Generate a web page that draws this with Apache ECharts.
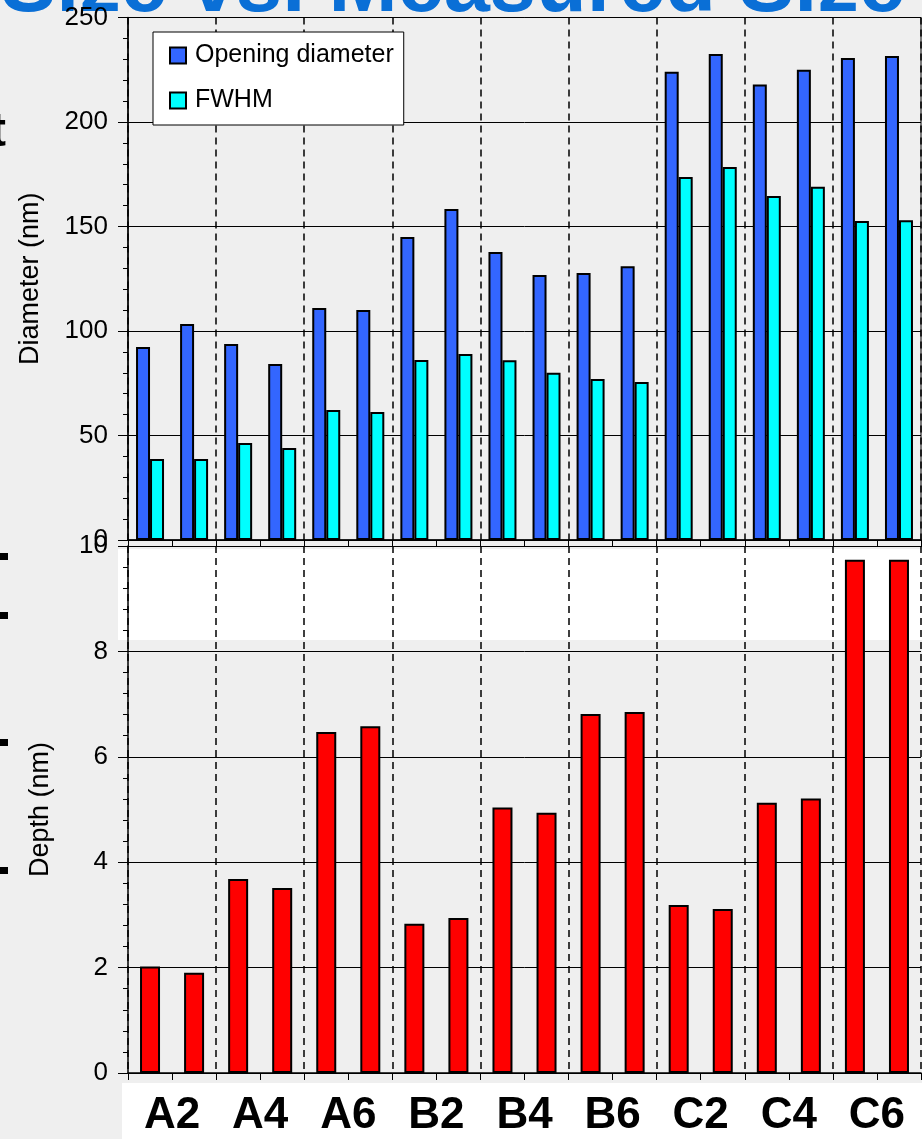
<!DOCTYPE html>
<html>
<head>
<meta charset="utf-8">
<script src="https://cdn.jsdelivr.net/npm/echarts@6/dist/echarts.min.js"></script>
<style>
  html, body { margin: 0; padding: 0; background: #efefef; }
  #chart { width: 922px; height: 1139px; }
</style>
</head>
<body>
<div id="chart"></div>
<script>
// ---- data ----
const groups = ['A2', 'A4', 'A6', 'B2', 'B4', 'B6', 'C2', 'C4', 'C6'];
const samples = ['A2a','A2b','A4a','A4b','A6a','A6b','B2a','B2b','B4a','B4b','B6a','B6b','C2a','C2b','C4a','C4b','C6a','C6b'];
const openingDiameter = [92.3, 103.3, 93.8, 84.2, 111, 110, 145, 158.4, 137.8, 126.8, 127.8, 131, 224, 232.5, 218, 225, 230.6, 231.6];
const fwhm = [38.8, 38.8, 46.4, 44, 62.2, 61.2, 86.1, 89, 86, 80, 77, 75.6, 173.7, 178.5, 164.6, 169, 152.6, 153];
const depth = [2.02, 1.9, 3.68, 3.51, 6.47, 6.58, 2.83, 2.94, 5.04, 4.94, 6.81, 6.85, 3.19, 3.11, 5.13, 5.21, 9.74, 9.74];
const diameterTicks = { min: 0, max: 250, interval: 50 };
const depthTicks = { min: 0, max: 10, interval: 2 };

const FONT = 'Liberation Sans, Arial, sans-serif';
const chart = echarts.init(document.getElementById('chart'), null, { renderer: 'canvas' });

const catAxis = (gridIndex) => ({
  type: 'category', gridIndex, data: samples, position: 'bottom',
  axisLine: { show: true, lineStyle: { color: '#000', width: 1.5 } },
  axisTick: { show: true, length: 7, lineStyle: { color: '#000', width: 1 } },
  axisLabel: { show: false },
  splitLine: { show: false }
});
const groupAxis = (gridIndex, showLabel) => ({
  type: 'category', gridIndex, data: groups, position: 'bottom',
  axisLine: { show: false }, axisTick: { show: false },
  axisLabel: { show: showLabel, interval: 0, fontFamily: FONT, fontWeight: 'bold', fontSize: 44, color: '#000', margin: 21 },
  splitLine: { show: true, interval: 0, lineStyle: { color: '#000', width: 1.5, type: [7, 5] } }
});
const valAxis = (gridIndex, t, name, gap) => ({
  type: 'value', gridIndex, min: t.min, max: t.max, interval: t.interval,
  name, nameLocation: 'middle', nameGap: gap, nameRotate: 90,
  nameTextStyle: { fontFamily: FONT, fontSize: 27, color: '#000' },
  axisLine: { show: true, lineStyle: { color: '#000', width: 1.5 } },
  axisTick: { show: true, length: 10, lineStyle: { color: '#000', width: 1 } },
  minorTick: { show: true, splitNumber: 5, length: 5, lineStyle: { color: '#000', width: 1 } },
  axisLabel: { fontFamily: FONT, fontSize: 26, color: '#000', margin: 20 },
  splitLine: { show: true, lineStyle: { color: '#000', width: 1 } }
});

const option = {
  backgroundColor: '#efefef',
  animation: false,
  graphic: [
    { type: 'rect', z: -10, shape: { x: 118, y: 549, width: 804, height: 91 }, style: { fill: '#ffffff' } },
    { type: 'rect', z: -10, shape: { x: 122, y: 1083, width: 800, height: 56 }, style: { fill: '#ffffff' } },
    { type: 'text', z: -5, style: { text: 'Size vs. Measured Size', x: 905, y: -12, align: 'right', verticalAlign: 'middle',
        font: 'bold 83px ' + FONT, fill: '#0a6fd6' } },
    { type: 'text', z: -5, style: { text: 't', x: 6, y: 133, align: 'right', verticalAlign: 'middle',
        font: 'bold 48px ' + FONT, fill: '#000' } },
    { type: 'rect', z: -5, shape: { x: 0, y: 553, width: 8, height: 7 }, style: { fill: '#000' } },
    { type: 'rect', z: -5, shape: { x: 0, y: 612, width: 8, height: 7 }, style: { fill: '#000' } },
    { type: 'rect', z: -5, shape: { x: 0, y: 739, width: 8, height: 7 }, style: { fill: '#000' } },
    { type: 'rect', z: -5, shape: { x: 0, y: 867, width: 8, height: 7 }, style: { fill: '#000' } }
  ],
  legend: {
    show: true, orient: 'vertical', left: 153, top: 32, icon: 'rect',
    data: ['Opening diameter', 'FWHM'],
    backgroundColor: '#ffffff', borderColor: '#000', borderWidth: 1,
    padding: [11, 10, 12, 16], itemGap: 20, itemWidth: 16, itemHeight: 16,
    textStyle: { fontFamily: FONT, fontSize: 25, color: '#000', padding: [0, 0, 0, 4] }
  },
  grid: [
    { left: 128, top: 17.5, width: 793, height: 522.5, show: true, borderColor: '#000', borderWidth: 1, backgroundColor: 'transparent' },
    { left: 128, top: 546, width: 793, height: 527 }
  ],
  xAxis: [catAxis(0), catAxis(1), groupAxis(0, false), groupAxis(1, true)],
  yAxis: [
    valAxis(0, diameterTicks, 'Diameter (nm)', 84),
    valAxis(1, depthTicks, 'Depth (nm)', 74)
  ],
  series: [
    { name: 'Opening diameter', type: 'bar', xAxisIndex: 0, yAxisIndex: 0, data: openingDiameter,
      barWidth: 14, barGap: '0%', itemStyle: { color: '#3366ff', borderColor: '#000', borderWidth: 2 } },
    { name: 'FWHM', type: 'bar', xAxisIndex: 0, yAxisIndex: 0, data: fwhm,
      barWidth: 14, barGap: '0%', itemStyle: { color: '#00ffff', borderColor: '#000', borderWidth: 2 } },
    { name: 'Depth', type: 'bar', xAxisIndex: 1, yAxisIndex: 1, data: depth,
      barWidth: 20, itemStyle: { color: '#ff0000', borderColor: '#000', borderWidth: 2 } }
  ]
};
chart.setOption(option);
</script>
</body>
</html>
